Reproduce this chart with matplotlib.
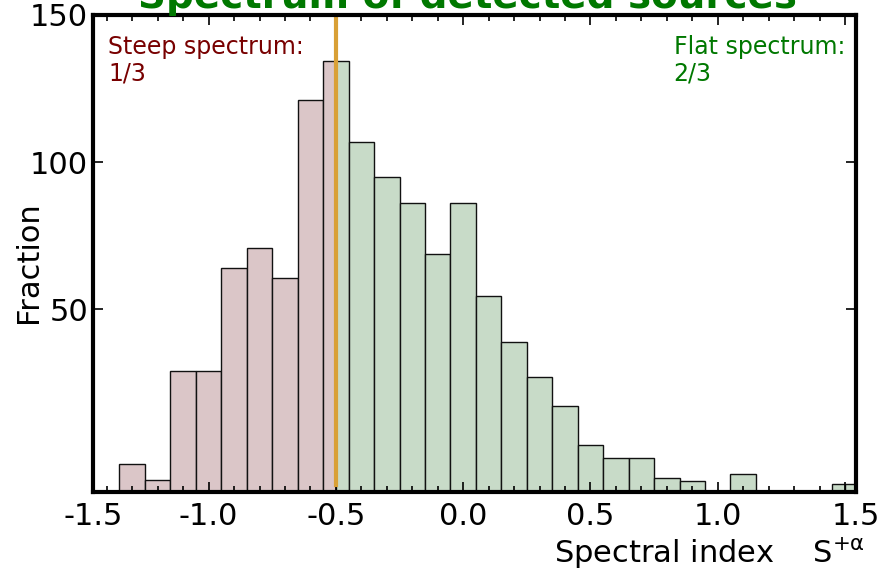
"""Histogram of spectral indices, split into steep and flat spectrum sources."""

import matplotlib
matplotlib.use("Agg")
import matplotlib.pyplot as plt
import numpy as np

# axis floor / ceiling as they appear on the figure
YMIN, YMAX = -12.2, 150.0
XMIN, XMAX = -1.454, 1.543
SPLIT = -0.5

# steep spectrum bins (alpha < -0.5)
steep_edges = [-1.35, -1.25, -1.15, -1.05, -0.95, -0.85, -0.75, -0.65, -0.55, -0.50]
steep_tops = [-2.8, -8.2, 28.9, 28.9, 64.0, 70.7, 60.5, 121.1, 134.3]

# flat spectrum bins (alpha >= -0.5)
flat_edges = [-0.50, -0.45, -0.35, -0.25, -0.15, -0.05, 0.05, 0.15, 0.25, 0.35, 0.45,
              0.55, 0.65, 0.75, 0.85, 0.95, 1.05, 1.15, 1.25, 1.35, 1.45, 1.50, 1.55]
flat_tops = [134.3, 106.8, 94.8, 86.1, 68.7, 86.1, 54.4, 38.8, 26.9, 17.0, 3.7,
             -0.8, -0.8, -7.4, -8.5, -11.7, -6.2, -12.2, -11.8, -12.2, -9.4, -9.4]

tick_pos = [XMIN, -1.0, -0.5, 0.0, 0.5, 1.0, 1.5, XMAX]
tick_labels = ["-1.5", "-1.0", "-0.5", "0.0", "0.5", "1.0", "", "1.5"]


def draw_bins(ax, edges, tops, color):
    edges = np.asarray(edges)
    tops = np.asarray(tops)
    ax.bar(edges[:-1], tops - YMIN, width=np.diff(edges), bottom=YMIN, align="edge",
           color=color, edgecolor="#111111", linewidth=1.0)


plt.rcParams["axes.unicode_minus"] = False
plt.rcParams["mathtext.default"] = "regular"
plt.rcParams["font.size"] = 22

fig = plt.figure(figsize=(8.85, 5.71), dpi=100)
ax = fig.add_axes([93 / 885, 1 - 492 / 571, 763 / 885, 477 / 571])

draw_bins(ax, steep_edges, steep_tops, "#dbc6c8")
draw_bins(ax, flat_edges, flat_tops, "#c8dbc8")
ax.axvline(SPLIT, ymin=0.015, ymax=1.0, color="#d9a036", linewidth=3)

ax.set_xlim(XMIN, XMAX)
ax.set_ylim(YMIN, YMAX)
ax.set_xticks(tick_pos)
ax.set_xticklabels(tick_labels)
ax.set_xticks(np.arange(-1.4, 1.55, 0.1), minor=True)
ax.set_yticks([50, 100, 150])
ax.tick_params(which="both", direction="in", top=True, right=True, width=1.2)
ax.tick_params(which="major", length=7, labelsize=22)
ax.tick_params(axis="x", which="major", pad=7)
ax.tick_params(which="minor", length=4)
for sp in ax.spines.values():
    sp.set_linewidth(3)

ax.set_ylabel("Fraction", fontsize=22)
ax.yaxis.set_label_coords(-0.066, 0.482)
ax.set_xlabel("Spectral index    $S^{+\\alpha}$", fontsize=22, ha="right", va="baseline")
ax.xaxis.set_label_coords(1.012, -0.149)

ax.text(0.02, 0.958, "Steep spectrum:\n1/3", transform=ax.transAxes, ha="left", va="top",
        fontsize=17, color="#780000", linespacing=1.15)
ax.text(0.761, 0.958, "Flat spectrum:\n2/3", transform=ax.transAxes, ha="left", va="top",
        fontsize=17, color="#007800", linespacing=1.15)

fig.text(0.528, 1 - 8 / 571, "Spectrum of detected sources", ha="center", va="baseline",
         fontsize=28, fontweight="bold", color="#007800")

fig.savefig("out.png", dpi=100)
